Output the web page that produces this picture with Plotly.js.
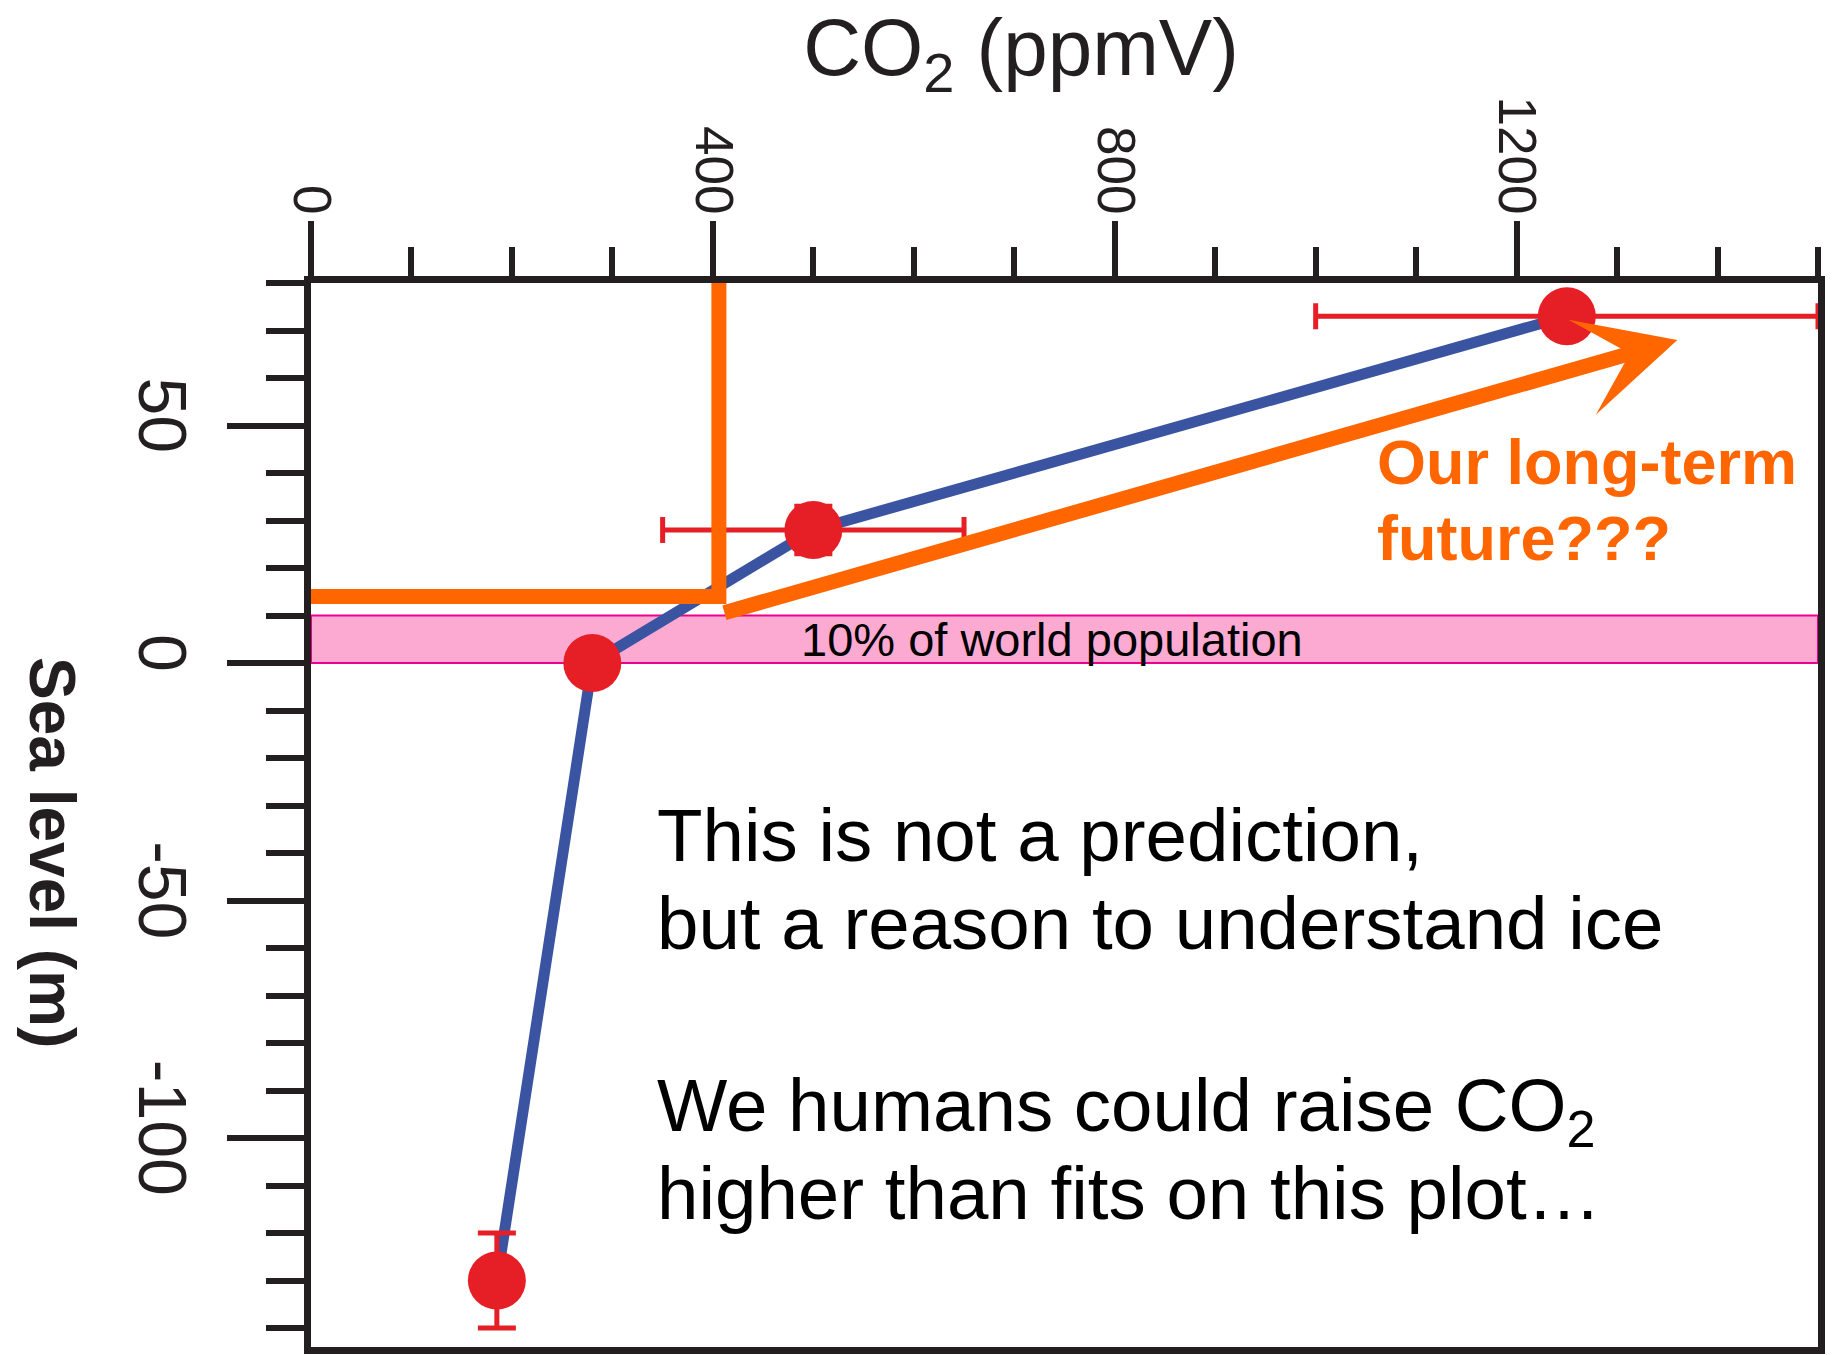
<!DOCTYPE html>
<html>
<head>
<meta charset="utf-8">
<script src="https://cdn.plot.ly/plotly-3.0.1.min.js"></script>
<style>
  html, body { margin: 0; padding: 0; background: #ffffff; }
  #chart { width: 1845px; height: 1355px; }
</style>
</head>
<body>
<div id="chart"></div>
<script>
// ---- data ----
const co2 = [185, 280, 500, 1250];            // ppmV
const seaLevel = [-130, 0, 28, 73];           // m
const co2Err = [null, null, 150, 250];        // ppmV (symmetric)
const seaErr = [10, null, 5, null];           // m

// orange "today" marker (L shape)
const nowX = [0, 406, 406];
const nowY = [14, 14, 80];

// orange arrow: tail -> head
const arrowX = [410, 1360];
const arrowY = [10.5, 68];

// pink band: 10% of world population
const bandY = [0, 10];
const bandX = [0, 1500];

const xTickVals = [0, 400, 800, 1200];
const xTickText = ['0', '400', '800', '1200'];
const yTickVals = [-100, -50, 0, 50];
const yTickText = ['-100', '-50', '0', '50'];

const futureLines = ['Our long-term', 'future???'];
const note1 = ['This is not a prediction,', 'but a reason to understand ice'];
const note2 = ['We humans could raise CO<sub>2</sub>', 'higher than fits on this plot…'];

// ---- styles ----
const AXIS = '#231f20';
const RED = '#e61e25';
const BLUE = '#3a54a2';
const ORANGE = '#ff6600';
const FONT = "'Liberation Sans', Arial, Helvetica, sans-serif";

const traces = [
  {
    x: co2, y: seaLevel, type: 'scatter', mode: 'lines',
    line: { color: BLUE, width: 11 }, hoverinfo: 'skip', showlegend: false
  },
  {
    x: co2, y: seaLevel, type: 'scatter', mode: 'markers',
    marker: { color: RED, size: 58 },
    error_x: { type: 'data', array: co2Err, symmetric: true, color: RED, thickness: 5, width: 13 },
    error_y: { type: 'data', array: seaErr, symmetric: true, color: RED, thickness: 5, width: 19 },
    showlegend: false
  },
  {
    x: nowX, y: nowY, type: 'scatter', mode: 'lines',
    line: { color: ORANGE, width: 15 }, hoverinfo: 'skip', showlegend: false
  }
];

const W = 1845, H = 1355;
const L = 311, R = 27, T = 283, B = 8;
const pw = W - L - R, ph = H - T - B;
const px2x = p => (p - L) / pw;
const px2y = p => (H - B - p) / ph;

const noteTops = [793, 881, 1063, 1151];
const noteLines = note1.concat(note2);
const futureTops = [426, 502];

const annotations = [
  // arrow
  {
    x: arrowX[1], y: arrowY[1], ax: arrowX[0], ay: arrowY[0],
    xref: 'x', yref: 'y', axref: 'x', ayref: 'y',
    text: '', showarrow: true, arrowhead: 3, arrowsize: 1.1,
    arrowwidth: 15, arrowcolor: ORANGE, standoff: 0, startstandoff: 0
  },
  // band label
  {
    x: 738, y: (bandY[0] + bandY[1]) / 2, xref: 'x', yref: 'y',
    text: '10% of world population', showarrow: false,
    xanchor: 'center', yanchor: 'middle', borderpad: 0,
    font: { family: FONT, size: 47, color: '#000000' }
  },
  // y-axis title, rotated clockwise as in the reference
  {
    x: px2x(52), y: px2y(852), xref: 'paper', yref: 'paper',
    text: '<b>Sea level (m)</b>', showarrow: false, textangle: 90,
    xanchor: 'center', yanchor: 'middle', borderpad: 0,
    font: { family: FONT, size: 64, color: AXIS }
  }
];
futureLines.forEach((t, i) => {
  annotations.push({
    x: px2x(1376), y: px2y(futureTops[i]), xref: 'paper', yref: 'paper',
    text: '<b>' + t + '</b>', showarrow: false,
    xanchor: 'left', yanchor: 'top', align: 'left', borderpad: 0,
    font: { family: FONT, size: 63, color: ORANGE }
  });
});
noteLines.forEach((t, i) => {
  annotations.push({
    x: px2x(656), y: px2y(noteTops[i]), xref: 'paper', yref: 'paper',
    text: t, showarrow: false, xanchor: 'left', yanchor: 'top', align: 'left',
    borderpad: 0, font: { family: FONT, size: 74.5, color: '#000000' }
  });
});

const layout = {
  width: W, height: H,
  margin: { l: L, r: R, t: T, b: B, pad: 0 },
  paper_bgcolor: '#ffffff', plot_bgcolor: '#ffffff',
  showlegend: false,
  font: { family: FONT, color: AXIS },
  title: {
    text: 'CO<sub>2</sub> (ppmV)',
    x: 1021 / W, xref: 'container', xanchor: 'center',
    y: 1 - (75 - 0.35 * 80) / H, yref: 'container', yanchor: 'middle',
    font: { family: FONT, size: 80, color: AXIS }
  },
  xaxis: {
    side: 'top', range: [0, 1500], showgrid: false, zeroline: false,
    showline: true, linecolor: AXIS, linewidth: 7, mirror: true,
    tickmode: 'array', tickvals: xTickVals, ticktext: xTickText,
    ticks: 'outside', ticklen: 55, tickwidth: 6, tickcolor: AXIS,
    tickangle: 90, ticklabelstandoff: -12,
    tickfont: { family: FONT, size: 53, color: AXIS },
    minor: { dtick: 100, tick0: 0, ticks: 'outside', ticklen: 29, tickwidth: 6, tickcolor: AXIS, showgrid: false }
  },
  yaxis: {
    range: [-144, 80], showgrid: false, zeroline: false,
    showline: true, linecolor: AXIS, linewidth: 7, mirror: true,
    tickmode: 'array', tickvals: yTickVals, ticktext: yTickText,
    ticks: 'outside', ticklen: 77, tickwidth: 6, tickcolor: AXIS,
    tickangle: 90, ticklabelstandoff: 6,
    tickfont: { family: FONT, size: 68, color: AXIS },
    minor: { dtick: 10, tick0: 0, ticks: 'outside', ticklen: 38, tickwidth: 6, tickcolor: AXIS, showgrid: false }
  },
  shapes: [
    {
      type: 'rect', xref: 'x', yref: 'y', layer: 'below',
      x0: bandX[0], x1: bandX[1], y0: bandY[0], y1: bandY[1],
      fillcolor: '#fdaad3', line: { color: '#ec008c', width: 2 }
    }
  ],
  annotations: annotations
};

Plotly.newPlot('chart', traces, layout, { displayModeBar: false, staticPlot: true });
</script>
</body>
</html>
